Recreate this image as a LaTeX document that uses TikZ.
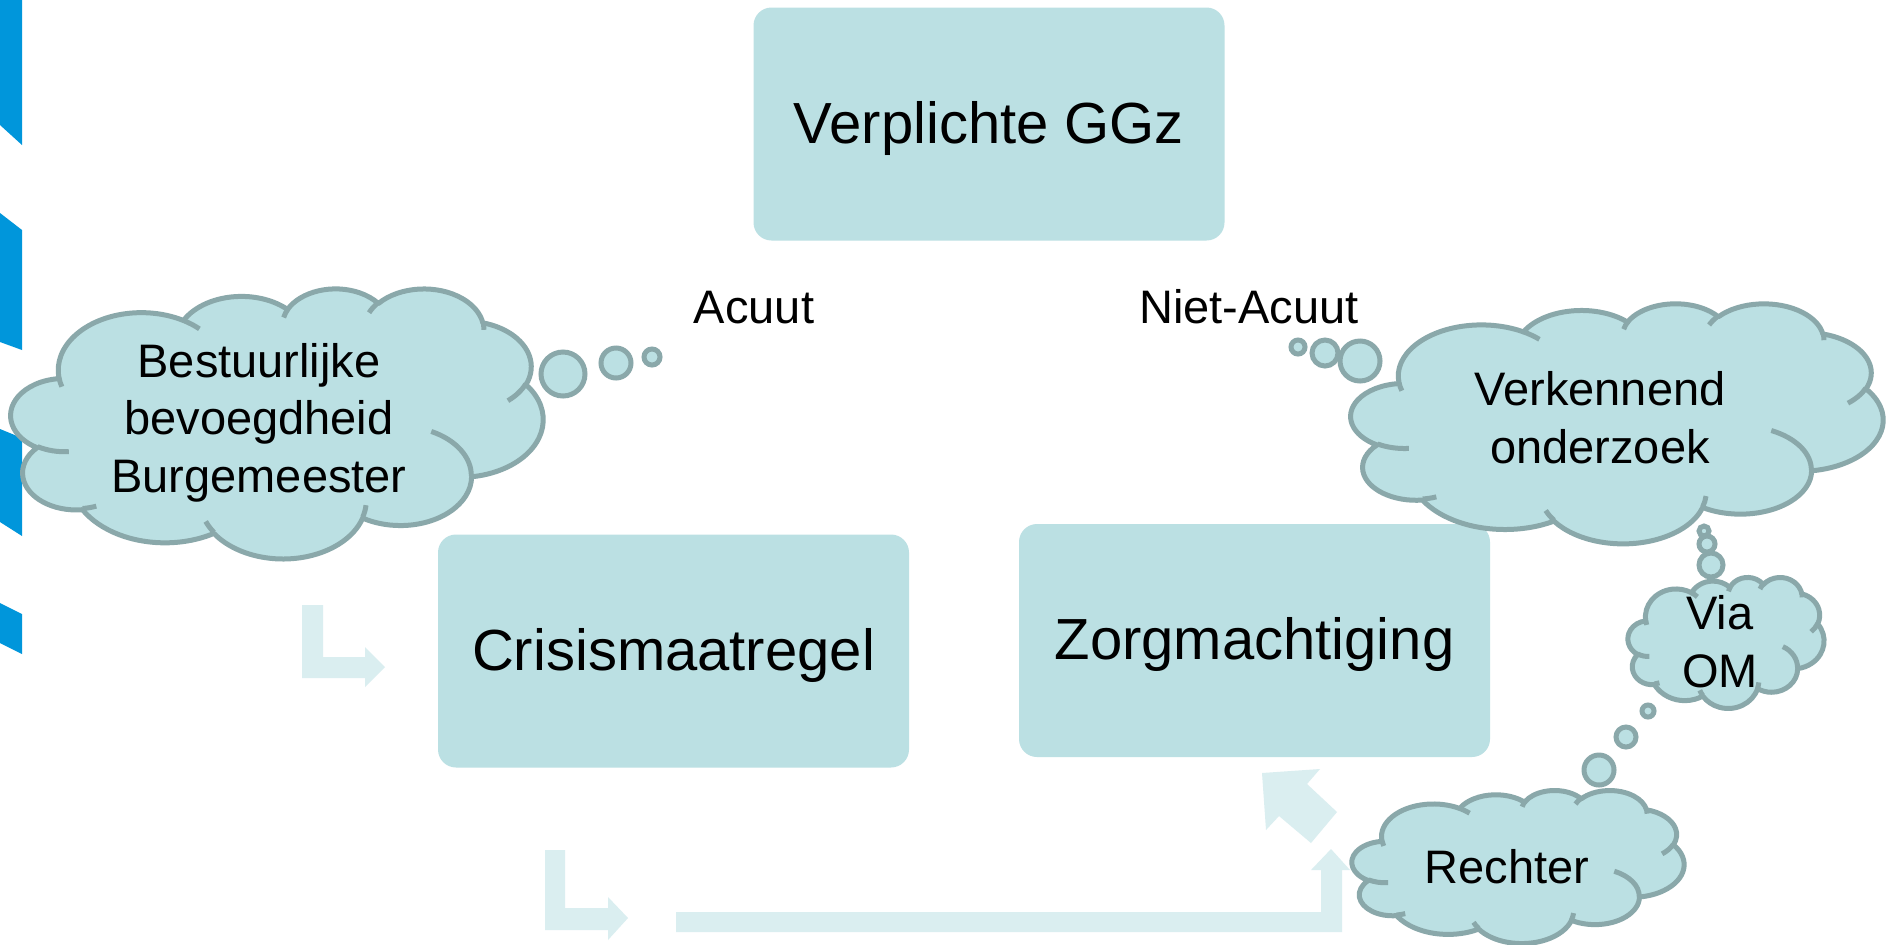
\documentclass[tikz,border=0pt]{standalone}
\usepackage{fontspec}
\setmainfont{Liberation Sans}
\definecolor{boxfill}{RGB}{187,224,227}
\definecolor{cloudedge}{RGB}{138,168,170}
\definecolor{arrowfill}{RGB}{218,238,240}
\definecolor{barblue}{RGB}{0,150,219}
% arc of an OOXML ellipse, visual angles converted to parametric ones
\newcommand\mkarc[5]{%
  \pgfmathsetmacro\ooA{atan2((#2)*sin(#4),(#3)*cos(#4))}%
  \pgfmathsetmacro\ooB{atan2((#2)*sin((#4)+(#5)),(#3)*cos((#4)+(#5)))}%
  \pgfmathsetmacro\ooB{\ooA+mod(\ooB-\ooA+720,360)}%
  \expandafter\xdef\csname oo#1\endcsname{arc[start angle=\ooA, end angle=\ooB, x radius=#2, y radius=#3]}%
}
\newcommand\pptcloud[5]{%
  \begin{scope}[shift={(#2,#3)},xscale={(#4-#2)/432},yscale={(#5-#3)/432}]
    \draw[cloudbody] (39.00,143.70) \ooa\oob\ooc\ood\ooe\oof\oog\ooh\ooi\ooj\ook -- cycle;
    \draw[cloudcrease] (46.93,261.77) \ooca (69.28,348.99) \oocb (164.78,390.90) \oocc
      (288.27,347.51) \oocd (341.29,229.54) \ooce (417.98,153.54) \oocf
      (383.24,54.26) \oocg (290.78,39.52) \ooch (221.41,47.20) \ooci
      (140.00,51.92) \oocj (41.27,157.89) \oock;
    \coordinate (#1) at (216,216);
  \end{scope}}
\begin{document}
\begin{tikzpicture}[x=0.5pt,y=-0.5pt,
  box/.style={rectangle, rounded corners=9pt, fill=boxfill, inner sep=0pt,
    minimum width=235.5pt, minimum height=116.5pt, text height=21pt, text depth=2pt,
    font=\fontsize{29}{34}\selectfont},
  lbl/.style={inner sep=0pt, anchor=base, align=center, font=\fontsize{23.5}{28.75}\selectfont},
  cloudbody/.style={draw=cloudedge, fill=boxfill, line width=2.5pt, line join=round},
  cloudcrease/.style={draw=cloudedge, line width=2.5pt},
  bubble/.style={draw=cloudedge, fill=boxfill, line width=2.5pt},
  blockarrow/.style={fill=arrowfill},
  bar/.style={fill=barblue}]
\mkarc{a}{67.53}{91.90}{-190.4875}{123.7805}
\mkarc{b}{53.33}{72.67}{-144.1024}{89.9452}
\mkarc{c}{43.65}{59.45}{-145.8079}{99.7230}
\mkarc{d}{48.57}{65.95}{-130.9861}{117.2417}
\mkarc{e}{53.33}{72.73}{-78.7089}{109.0269}
\mkarc{f}{67.75}{92.20}{-46.2673}{130.2690}
\mkarc{g}{57.85}{78.67}{0.6250}{114.0333}
\mkarc{h}{67.52}{92.15}{22.4516}{115.1726}
\mkarc{i}{77.20}{105.43}{66.2426}{75.7110}
\mkarc{j}{43.60}{59.18}{-274.9421}{146.7356}
\mkarc{k}{43.45}{59.45}{-246.8285}{152.5189}
\mkarc{ca}{43.45}{59.45}{86.7420}{26.4295}
\mkarc{cb}{43.60}{59.18}{73.6105}{11.4475}
\mkarc{cc}{67.52}{92.15}{137.6242}{14.0811}
\mkarc{cd}{67.52}{92.15}{6.4533}{15.9984}
\mkarc{ce}{57.85}{78.67}{-70.2924}{70.9174}
\mkarc{cf}{53.33}{72.73}{30.3180}{27.7515}
\mkarc{cg}{48.57}{65.95}{-13.7443}{14.8572}
\mkarc{ch}{48.57}{65.95}{-149.1815}{18.1954}
\mkarc{ci}{43.65}{59.45}{-163.4943}{17.6864}
\mkarc{cj}{67.53}{91.90}{-66.7070}{12.3194}
\mkarc{ck}{67.53}{91.90}{157.6544}{11.8582}

\fill[white] (0,0) rectangle (1888,944);
\useasboundingbox (0,0) rectangle (1888,944);

% blue bars at the left edge
\fill[bar] (0,0) -- (22,0) -- (22,145) -- (0,125) -- cycle;
\fill[bar] (0,213) -- (22,230) -- (22,350) -- (0,342) -- cycle;
\fill[bar] (0,429) -- (22,438) -- (22,536) -- (0,522) -- cycle;
\fill[bar] (0,603) -- (22,614) -- (22,654) -- (0,643) -- cycle;

% light block arrows
\fill[blockarrow] (302,605) -- (323,605) -- (323,657) -- (365,657) -- (365,647)
  -- (385,667) -- (365,687) -- (365,678) -- (302,678) -- cycle;
\fill[blockarrow] (545,850) -- (565,850) -- (565,908) -- (608,908) -- (608,897)
  -- (628,918) -- (608,940) -- (608,930) -- (545,930) -- cycle;
\fill[blockarrow] (676,912) -- (1321,912) -- (1321,870) -- (1311,870) -- (1331,849)
  -- (1350,870) -- (1342,870) -- (1342,932) -- (676,932) -- cycle;
\fill[blockarrow] (1262,773) -- (1320,769) -- (1307,784) -- (1337,812) -- (1311,843)
  -- (1279,816) -- (1266,830) -- cycle;

% boxes
\node[box] (ggz) at (989,124) {Verplichte GGz};
\node[box] (crisis) at (673.5,651) {Crisismaatregel};
\node[box] (zorg) at (1254.5,640.5) {Zorgmachtiging};

% labels
\node[lbl] (acuut) at (754,323) {Acuut};
\node[lbl] (nietacuut) at (1249,323) {Niet-Acuut};

% clouds
\pptcloud{cburg}{11}{288}{543}{558}
\draw[bubble] (563,374) circle[radius=22];
\draw[bubble] (616,363) circle[radius=15];
\draw[bubble] (652,357) circle[radius=8];
\node[lbl] (burg) at (259,492) {Bestuurlijke\\bevoegdheid\\Burgemeester};

\pptcloud{cverk}{1351}{303}{1883}{543}
\draw[bubble] (1298,347) circle[radius=7];
\draw[bubble] (1325,353) circle[radius=13];
\draw[bubble] (1360,361) circle[radius=20];
\node[lbl] (verk) at (1600,463) {Verkennend\\onderzoek};

\pptcloud{com}{1628}{577}{1824}{708}
\draw[bubble] (1704,531) circle[radius=5];
\draw[bubble] (1707,544) circle[radius=8];
\draw[bubble] (1711,565) circle[radius=12];
\draw[bubble] (1648,711) circle[radius=6];
\draw[bubble] (1626,737) circle[radius=10];
\draw[bubble] (1599,770) circle[radius=15];
\node[lbl] (om) at (1720,687) {Via\\OM};

\pptcloud{crecht}{1352}{790}{1684}{943}
\node[lbl] (recht) at (1507,883) {Rechter};
\end{tikzpicture}
\end{document}
